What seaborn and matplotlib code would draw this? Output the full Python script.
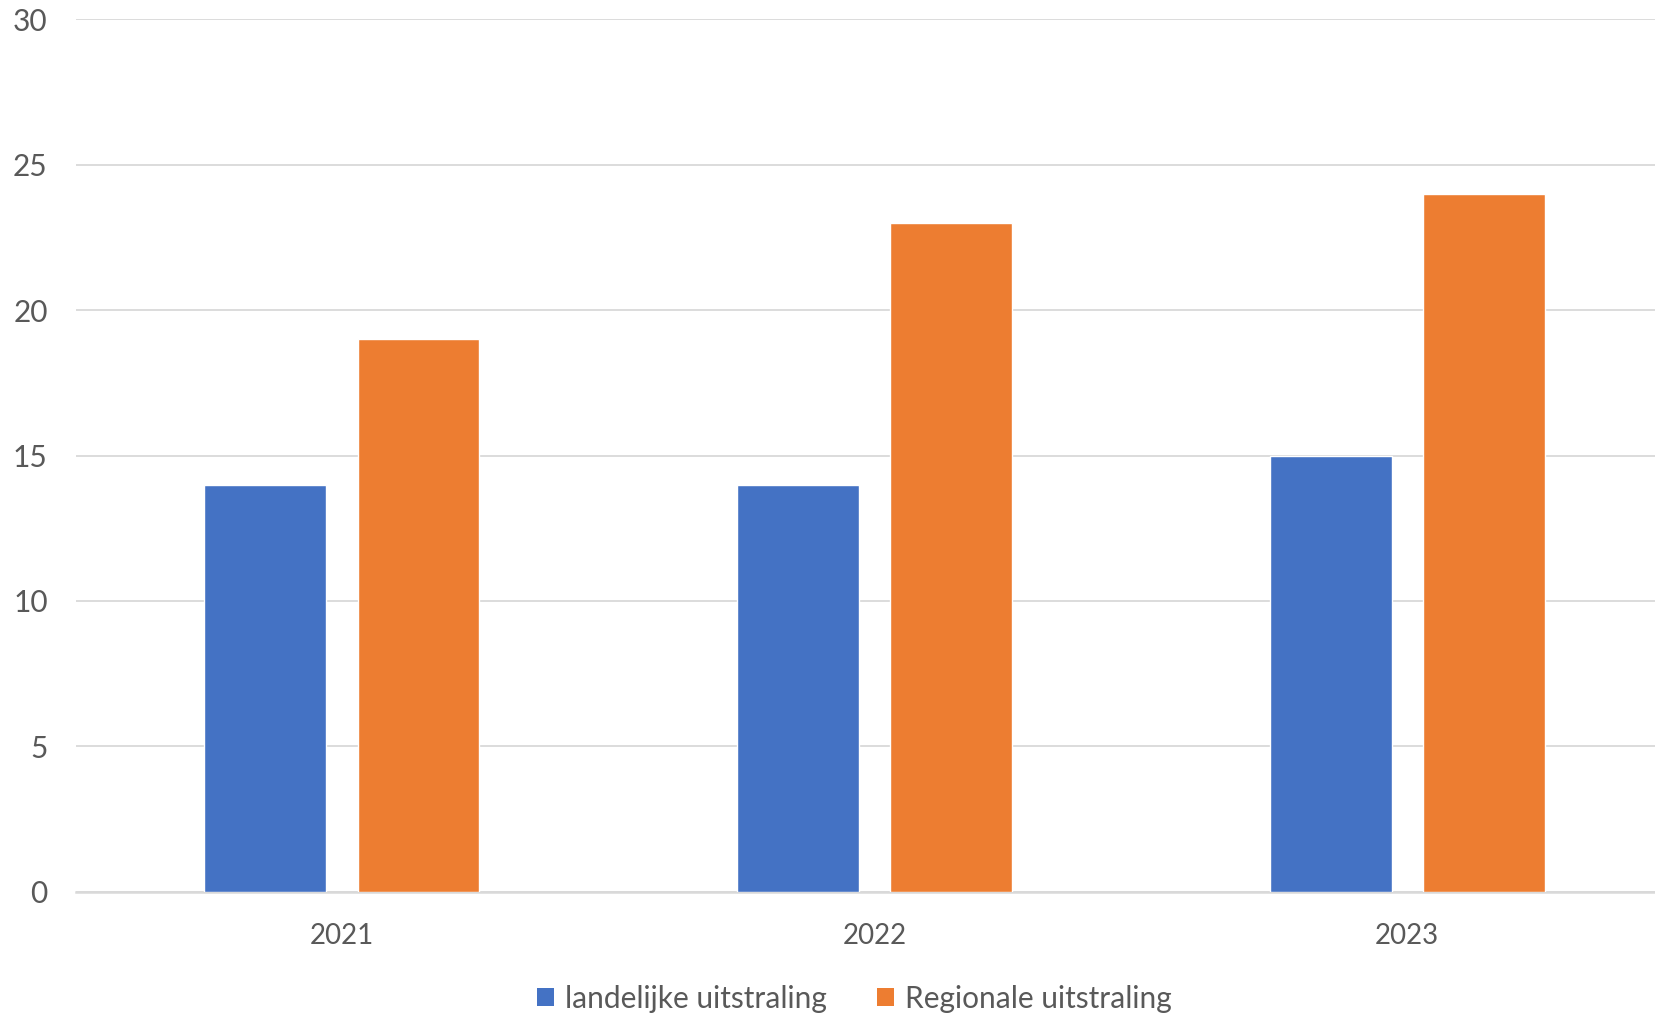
import pandas as pd
import matplotlib.pyplot as plt
import seaborn as sns
from matplotlib.patches import Patch

jaren = ["2021", "2022", "2023"]
landelijk = [14, 14, 15]
regionaal = [19, 23, 24]
reeksen = ["landelijke uitstraling", "Regionale uitstraling"]
kleuren = ["#4472C4", "#ED7D31"]

df = pd.DataFrame({
    "jaar": jaren * 2,
    "aantal": landelijk + regionaal,
    "reeks": [reeksen[0]] * 3 + [reeksen[1]] * 3,
})

sns.set_style("white")
plt.rcParams["font.family"] = ["Lato", "DejaVu Sans"]
grijs = "#595959"

fig = plt.figure(figsize=(16.56, 10.18), dpi=100)
# plotgebied loopt rechts net buiten de figuur
ax = fig.add_axes([0.0456, 0.1238, 0.965, 0.8575])

sns.barplot(data=df, x="jaar", y="aantal", hue="reeks", palette=kleuren,
            saturation=1, width=0.575, gap=0.205, ax=ax, legend=False,
            zorder=3)

ax.set_ylim(0, 30)
ax.set_xlim(-0.5, 2.5)
ax.set_yticks(range(0, 31, 5))
ax.yaxis.grid(True, color="#D9D9D9", linewidth=1.3, zorder=0)
ax.set_axisbelow(True)
for s in ["top", "right", "left"]:
    ax.spines[s].set_visible(False)
ax.spines["bottom"].set_color("#D9D9D9")
ax.spines["bottom"].set_linewidth(1.8)
ax.tick_params(axis="both", length=0, labelsize=20, labelcolor=grijs)
ax.tick_params(axis="y", pad=20, labelsize=21.5)
ax.tick_params(axis="x", pad=22)
ax.set_xlabel("")
ax.set_ylabel("")

handles = [Patch(facecolor=k, edgecolor="none") for k in kleuren]
fig.legend(handles, reeksen, loc="center", bbox_to_anchor=(0.516, 0.019),
           ncol=2, frameon=False, fontsize=21.5, labelcolor=grijs,
           handlelength=0.57, handleheight=0.57, handletextpad=0.35,
           columnspacing=1.7)

fig.savefig("out.png", dpi=100)
